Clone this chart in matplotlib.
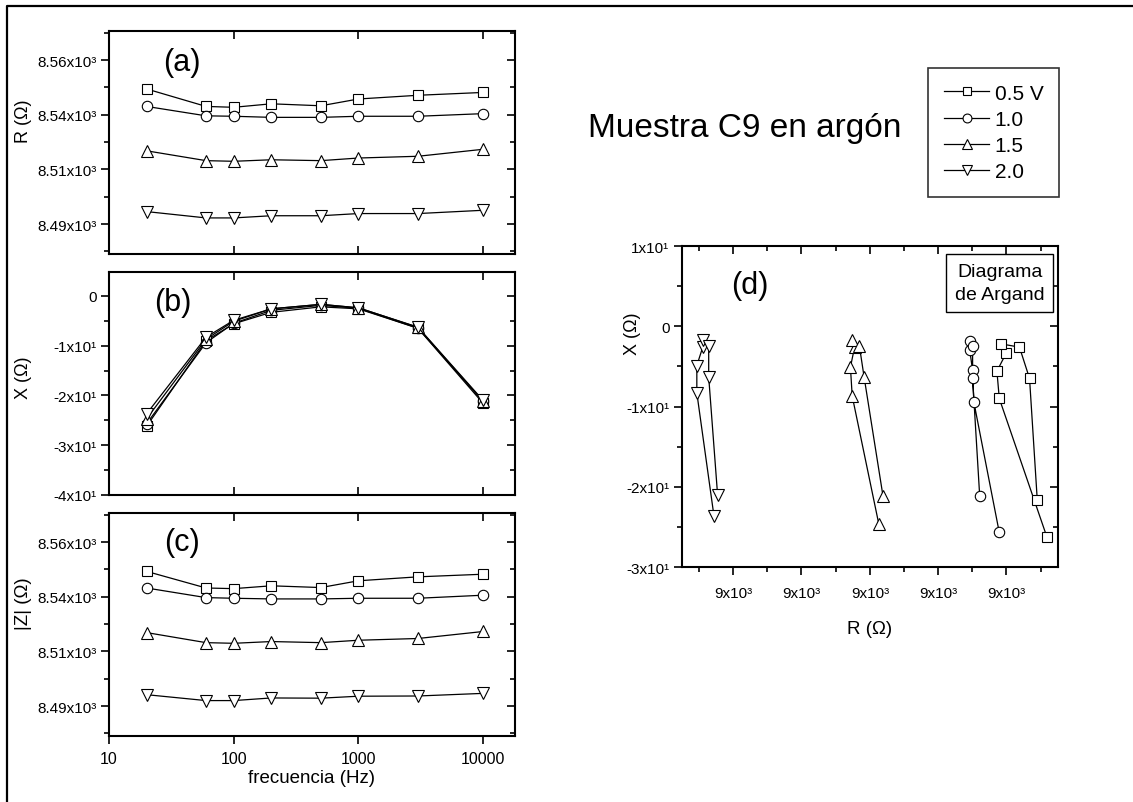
import matplotlib
matplotlib.use("Agg")
import matplotlib.pyplot as plt
from matplotlib.lines import Line2D
from matplotlib.ticker import FixedLocator, NullLocator

plt.rcParams['font.family'] = ['Liberation Sans', 'DejaVu Sans']

# ---------------- data ----------------
freq = [20, 60, 100, 200, 500, 1000, 3000, 10000]
labels = ["0.5 V", "1.0", "1.5", "2.0"]

R_05 = [8549.3, 8541.3, 8540.9, 8542.5, 8541.6, 8544.7, 8546.4, 8547.7]
R_10 = [8541.3, 8537.0, 8536.8, 8536.3, 8536.3, 8536.8, 8536.8, 8538.0]
R_15 = [8521.0, 8516.5, 8516.2, 8516.9, 8516.5, 8517.7, 8518.5, 8521.7]
R_20 = [8493.2, 8490.3, 8490.3, 8491.3, 8491.3, 8492.3, 8492.3, 8493.8]

X_05 = [-26.2, -9.0, -5.6, -3.3, -2.2, -2.6, -6.5, -21.6]
X_10 = [-25.7, -9.4, -5.5, -2.9, -1.9, -2.5, -6.5, -21.2]
X_15 = [-24.7, -8.7, -5.1, -2.6, -1.7, -2.4, -6.3, -21.2]
X_20 = [-23.7, -8.3, -4.9, -2.6, -1.7, -2.4, -6.3, -21.0]

Z_05 = [8549.1, 8541.5, 8541.2, 8542.5, 8541.7, 8544.8, 8546.6, 8547.8]
Z_10 = [8541.5, 8537.1, 8536.8, 8536.5, 8536.5, 8536.8, 8536.8, 8538.2]
Z_15 = [8521.1, 8516.5, 8516.2, 8517.0, 8516.5, 8517.6, 8518.4, 8521.6]
Z_20 = [8492.7, 8490.0, 8490.0, 8491.2, 8491.1, 8492.0, 8492.1, 8493.3]

R_all = [R_05, R_10, R_15, R_20]
X_all = [X_05, X_10, X_15, X_20]
Z_all = [Z_05, Z_10, Z_15, Z_20]

RZ_ticks = [8487.5, 8512.5, 8537.5, 8562.5]
RZ_ticklabels = ["8.49x10³", "8.51x10³", "8.54x10³", "8.56x10³"]
X_ticks = [-40, -30, -20, -10, 0]
X_ticklabels = ["-4x10¹", "-3x10¹", "-2x10¹", "-1x10¹", "0"]
Xd_ticks = [-30, -20, -10, 0, 10]
Xd_ticklabels = ["-3x10¹", "-2x10¹", "-1x10¹", "0", "1x10¹"]
Rd_ticks = [8496.4, 8507.9, 8519.5, 8531.0, 8542.5]
Rd_ticklabels = ["9x10³"] * 5
f_ticks = [10, 100, 1000, 10000]
f_ticklabels = ["10", "100", "1000", "10000"]

# ---------------- styles ----------------
markers = ['s', 'o', '^', 'v']
msizes = [6.5, 7.5, 9, 9]
line_kw = dict(color='black', lw=0.9, mfc='white', mec='black', mew=0.8)

W, H = 1133, 803
fig = plt.figure(figsize=(W / 100, H / 100), dpi=100)

def box(l, r, t, b):
    return [l / W, 1 - b / H, (r - l) / W, (b - t) / H]

def style_axes(ax, bottom_out):
    for s in ax.spines.values():
        s.set_linewidth(1.5)
    ax.yaxis.set_ticks_position('left')
    ax.xaxis.set_ticks_position('bottom')
    ax.tick_params(which='both', width=1.2, labelsize=11, pad=3)
    ax.tick_params(which='major', length=6)
    ax.tick_params(which='minor', length=3.5)
    ax.tick_params(axis='y', which='both', direction='out')
    ax.tick_params(axis='x', which='both', direction='out' if bottom_out else 'in')

def mirror_ticks(ax):
    axr = ax.twinx()
    axr.set_yscale(ax.get_yscale())
    axr.set_ylim(ax.get_ylim())
    axr.yaxis.set_major_locator(FixedLocator(ax.yaxis.get_majorticklocs()))
    axr.yaxis.set_minor_locator(FixedLocator(ax.yaxis.get_minorticklocs()))
    axr.tick_params(axis='y', which='both', direction='in', labelright=False, width=1.2)
    axr.tick_params(axis='y', which='major', length=6)
    axr.tick_params(axis='y', which='minor', length=3.5)
    for s in axr.spines.values():
        s.set_visible(False)
    axt = ax.twiny()
    axt.set_xscale(ax.get_xscale())
    axt.set_xlim(ax.get_xlim())
    axt.xaxis.set_major_locator(FixedLocator(ax.xaxis.get_majorticklocs()))
    axt.xaxis.set_minor_locator(FixedLocator(ax.xaxis.get_minorticklocs()))
    axt.tick_params(axis='x', which='both', direction='in', labeltop=False, width=1.2)
    axt.tick_params(axis='x', which='major', length=6)
    axt.tick_params(axis='x', which='minor', length=3.5)
    for s in axt.spines.values():
        s.set_visible(False)

RZ_lim = (8473.8, 8575.8)
f_lim = (10, 18000)

ax_a = fig.add_axes(box(109, 515, 32, 255))
ax_b = fig.add_axes(box(109, 515, 273, 496))
ax_c = fig.add_axes(box(109, 515, 514, 737))
ax_d = fig.add_axes(box(682, 1058, 247, 568))

handles = []
for i in range(4):
    h, = ax_a.plot(freq, R_all[i], marker=markers[i], ms=msizes[i], **line_kw)
    handles.append(h)
    ax_b.plot(freq, X_all[i], marker=markers[i], ms=msizes[i], **line_kw)
    ax_c.plot(freq, Z_all[i], marker=markers[i], ms=msizes[i], **line_kw)
    ax_d.plot(R_all[i], X_all[i], marker=markers[i], ms=msizes[i], **line_kw)

for ax in (ax_a, ax_b, ax_c):
    ax.set_xscale('log')
    ax.set_xlim(*f_lim)
    ax.xaxis.set_major_locator(FixedLocator(f_ticks))
    ax.xaxis.set_minor_locator(NullLocator())

for ax in (ax_a, ax_c):
    ax.set_ylim(*RZ_lim)
    ax.set_yticks(RZ_ticks)
    ax.set_yticklabels(RZ_ticklabels)
    ax.yaxis.set_minor_locator(FixedLocator([8475, 8500, 8525, 8550, 8575]))

ax_b.set_ylim(-40, 4.8)
ax_b.set_yticks(X_ticks)
ax_b.set_yticklabels(X_ticklabels)
ax_b.yaxis.set_minor_locator(FixedLocator([-35, -25, -15, -5]))

ax_d.set_xlim(8487.8, 8551.2)
ax_d.set_ylim(-30, 10)
ax_d.set_xticks(Rd_ticks)
ax_d.set_xticklabels(Rd_ticklabels)
ax_d.xaxis.set_minor_locator(FixedLocator([t - 5.76 for t in Rd_ticks] + [Rd_ticks[-1] + 5.76]))
ax_d.set_yticks(Xd_ticks)
ax_d.set_yticklabels(Xd_ticklabels)
ax_d.yaxis.set_minor_locator(FixedLocator([-25, -15, -5, 5]))

style_axes(ax_a, bottom_out=False)
style_axes(ax_b, bottom_out=False)
style_axes(ax_c, bottom_out=True)
style_axes(ax_d, bottom_out=True)
for ax in (ax_a, ax_b):
    ax.tick_params(axis='x', labelbottom=False)
ax_c.set_xticklabels(f_ticklabels)
ax_c.tick_params(axis='x', labelsize=11.5, pad=5)
ax_d.tick_params(axis='x', pad=8)

for ax in (ax_a, ax_b, ax_c, ax_d):
    mirror_ticks(ax)

# axis labels
ax_a.set_ylabel("R (Ω)", fontsize=13)
ax_a.yaxis.set_label_coords(-0.19, 0.6)
ax_b.set_ylabel("X (Ω)", fontsize=13)
ax_b.yaxis.set_label_coords(-0.19, 0.53)
ax_c.set_ylabel("|Z| (Ω)", fontsize=13.5)
ax_c.yaxis.set_label_coords(-0.19, 0.6)
ax_c.set_xlabel("frecuencia (Hz)", fontsize=13.5, labelpad=2)
ax_d.set_ylabel("X (Ω)", fontsize=13)
ax_d.yaxis.set_label_coords(-0.11, 0.73)
ax_d.set_xlabel("R (Ω)", fontsize=13.5, labelpad=14)

# panel letters
ax_a.text(0.179, 0.861, "(a)", transform=ax_a.transAxes, fontsize=22, ha='center', va='center')
ax_b.text(0.158, 0.864, "(b)", transform=ax_b.transAxes, fontsize=22, ha='center', va='center')
ax_c.text(0.181, 0.87, "(c)", transform=ax_c.transAxes, fontsize=22, ha='center', va='center')
ax_d.text(0.181, 0.878, "(d)", transform=ax_d.transAxes, fontsize=22, ha='center', va='center')

ax_d.text(0.845, 0.885, "Diagrama\nde Argand", transform=ax_d.transAxes, fontsize=14,
          ha='center', va='center', linespacing=1.45,
          bbox=dict(boxstyle='square,pad=0.45', fc='white', ec='black', lw=1.0))

# title
fig.text(588 / W, 1 - 129 / H, "Muestra C9 en argón", fontsize=24, ha='left', va='center')

# legend
leg = fig.legend(handles, labels, loc='upper left', bbox_to_anchor=(928 / W, 1 - 69 / H),
                 fontsize=15, frameon=True, fancybox=False, edgecolor='black',
                 handlelength=2.2, handletextpad=0.25, labelspacing=0.35,
                 borderpad=0.75, borderaxespad=0, markerscale=0.85)
leg.get_frame().set_linewidth(1.2)

# outer frame (left and top edges)
fig.add_artist(Line2D([6.5 / W, 6.5 / W, 1.0], [0.0, 1 - 7 / H, 1 - 7 / H],
                      transform=fig.transFigure, color='black', lw=1.6))

fig.savefig("out.png", dpi=100, facecolor='white')
